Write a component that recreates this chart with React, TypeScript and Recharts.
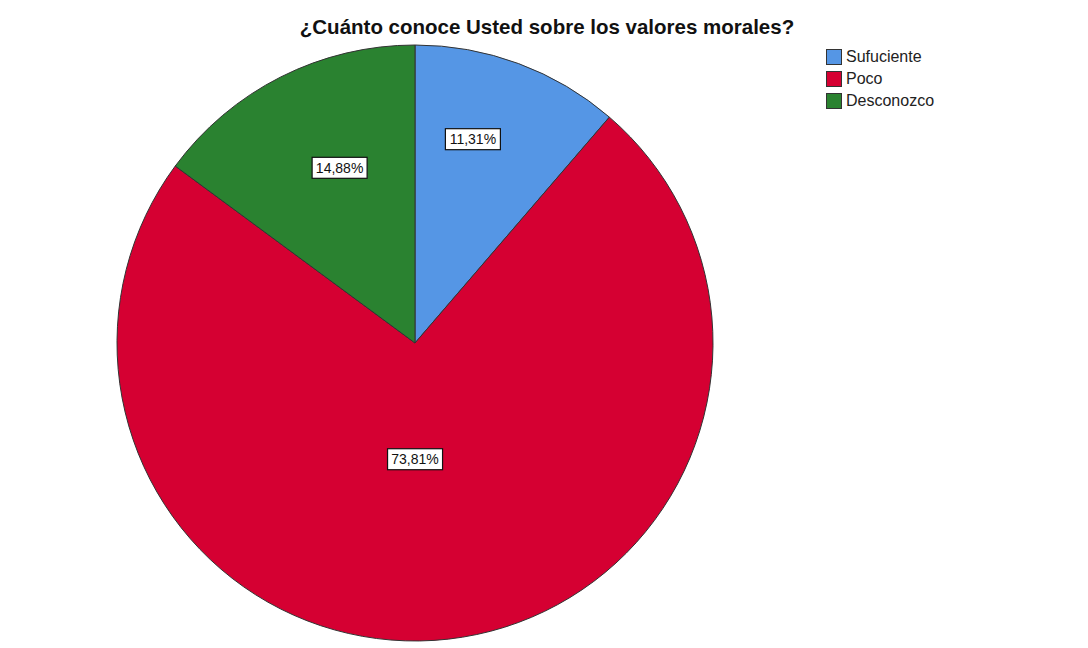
import React from "react";
import { PieChart, Pie, Cell, Legend } from "recharts";

const categories = ["Sufuciente", "Poco", "Desconozco"];
const percentages = [11.31, 73.81, 14.88];
const labelTexts = ["11,31%", "73,81%", "14,88%"];
const colors = ["#5596E5", "#D50032", "#2A8230"];

const TITLE = "¿Cuánto conoce Usted sobre los valores morales?";
const FONT = "'Liberation Sans', Arial, sans-serif";

// label placement tuning (radius fraction, angle shift in degrees clockwise-from-top)
const LABEL_R = [0.711, 0.39, 0.64];
const LABEL_SHIFT = [-4.5, 6.4, 3.5];

const data = categories.map((name, i) => ({ name, value: percentages[i], label: labelTexts[i] }));

const RAD = Math.PI / 180;

const renderLabel = (props: any) => {
  const { cx, cy, midAngle, outerRadius, index } = props;
  const ang = midAngle - LABEL_SHIFT[index];
  const r = outerRadius * LABEL_R[index];
  const x = cx + r * Math.cos(-ang * RAD);
  const y = cy + r * Math.sin(-ang * RAD);
  const w = 55;
  const h = 21;
  return (
    <g>
      <rect x={x - w / 2} y={y - h / 2} width={w} height={h} fill="#fff" stroke="#111" strokeWidth={1.2} />
      <text x={x} y={y + 5} textAnchor="middle" fontFamily={FONT} fontSize={14} fill="#111">
        {data[index].label}
      </text>
    </g>
  );
};

const renderLegend = () => (
  <div style={{ fontFamily: FONT, fontSize: 16, color: "#222" }}>
    {categories.map((c, i) => (
      <div key={c} style={{ display: "flex", alignItems: "center", height: 22 }}>
        <span
          style={{
            display: "inline-block",
            width: 14,
            height: 14,
            background: colors[i],
            border: "1px solid #333",
            marginRight: 4,
          }}
        />
        <span>{c}</span>
      </div>
    ))}
  </div>
);

export default function App() {
  return (
    <div style={{ position: "relative", width: 1080, height: 640, background: "#fff" }}>
      <div
        style={{
          position: "absolute",
          left: 0,
          width: 1078,
          top: 7,
          textAlign: "center",
          fontFamily: FONT,
          fontWeight: "bold",
          fontSize: 20.5,
          color: "#111",
          zIndex: 2,
        }}
      >
        {TITLE}
      </div>
      <PieChart width={1080} height={640} margin={{ top: 0, right: 0, bottom: 0, left: 0 }}>
        <Pie
          data={data}
          dataKey="value"
          nameKey="name"
          cx={407}
          cy={335}
          outerRadius={298}
          startAngle={90}
          endAngle={-270}
          stroke="#333"
          strokeWidth={1}
          label={renderLabel}
          labelLine={false}
          isAnimationActive={false}
        >
          {data.map((d, i) => (
            <Cell key={d.name} fill={colors[i]} />
          ))}
        </Pie>
        <Legend
          content={renderLegend}
          layout="vertical"
          verticalAlign="top"
          align="right"
          wrapperStyle={{ position: "absolute", left: 818, top: 38, width: 160 }}
        />
      </PieChart>
    </div>
  );
}
